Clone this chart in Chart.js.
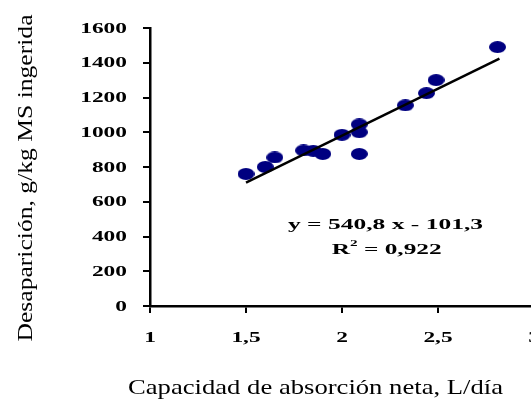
<!DOCTYPE html>
<html>
<head>
<meta charset="utf-8">
<script src="https://cdn.jsdelivr.net/npm/chart.js@4"></script>
<style>
  html, body { margin: 0; padding: 0; background: #fff; overflow: hidden; }
  #wrap { position: absolute; left: 0; top: 0; width: 545px; height: 400px; }
</style>
</head>
<body>
<div id="wrap"><canvas id="chart" width="545" height="400"></canvas></div>
<script>
// data
const capacidad    = [1.5, 1.6, 1.65, 1.8, 1.85, 1.9, 2.0, 2.09, 2.09, 2.09, 2.33, 2.44, 2.49, 2.81];
const desaparicion = [760, 800, 855, 895, 893, 875, 985, 1045, 1000, 875, 1155, 1225, 1300, 1490];

// fitted line shown in the chart
const slope = 540.8;
const intercept = -101.3;
const trendX = [1.5, 2.82];

const xTickVals = [1, 1.5, 2, 2.5, 3];
const xTickLabels = ["1", "1,5", "2", "2,5", "3"];
const yTickVals = [0, 200, 400, 600, 800, 1000, 1200, 1400, 1600];
const yTickLabels = ["0", "200", "400", "600", "800", "1000", "1200", "1400", "1600"];

const xTitle = "Capacidad de absorción neta, L/día";
const yTitle = "Desaparición, g/kg MS ingerida";
const eqLine = "y = 540,8 x - 101,3";
const r2Value = " = 0,922";

document.addEventListener("DOMContentLoaded", function () {
    // ellipse marker like the original
    const dot = document.createElement("canvas");
    dot.width = 17;
    dot.height = 12;
    const dctx = dot.getContext("2d");
    dctx.fillStyle = "#000080";
    dctx.beginPath();
    dctx.ellipse(8.5, 6, 8.5, 6, 0, 0, Math.PI * 2);
    dctx.fill();

    const points = capacidad.map((x, i) => ({ x: x, y: desaparicion[i] }));
    const trend = trendX.map(x => ({ x: x, y: slope * x + intercept }));

    // draws text stretched horizontally like the source image
    function stretchText(ctx, text, x, y, font, sx, align) {
        ctx.save();
        ctx.font = font;
        ctx.textAlign = align;
        ctx.textBaseline = "middle";
        ctx.fillStyle = "#000";
        ctx.translate(x, y);
        ctx.scale(sx, 1);
        ctx.fillText(text, 0, 0);
        ctx.restore();
    }

    function fitText(ctx, text, x, y, font, width, rotate) {
        ctx.save();
        ctx.font = font;
        const sx = width / ctx.measureText(text).width;
        ctx.textAlign = "center";
        ctx.textBaseline = "middle";
        ctx.fillStyle = "#000";
        ctx.translate(x, y);
        if (rotate) ctx.rotate(-Math.PI / 2);
        ctx.scale(sx, 1);
        ctx.fillText(text, 0, 0);
        ctx.restore();
    }

    // "R" + raised "2" + rest, fitted to a width
    function r2Text(ctx, x, y, width) {
        const big = 'bold 15px "Liberation Serif"';
        const small = 'bold 9px "Liberation Serif"';
        ctx.save();
        ctx.font = big;
        const wR = ctx.measureText("R").width;
        const wRest = ctx.measureText(r2Value).width;
        ctx.font = small;
        const w2 = ctx.measureText("2").width;
        const total = wR + w2 + wRest;
        const sx = width / total;
        ctx.translate(x - width / 2, y);
        ctx.scale(sx, 1);
        ctx.textAlign = "left";
        ctx.textBaseline = "middle";
        ctx.fillStyle = "#000";
        ctx.font = big;
        ctx.fillText("R", 0, 0);
        ctx.font = small;
        ctx.fillText("2", wR, -6);
        ctx.font = big;
        ctx.fillText(r2Value, wR + w2, 0);
        ctx.restore();
    }

    const labelsPlugin = {
        id: "labels",
        afterDraw(chart) {
            const ctx = chart.ctx;
            const xs = chart.scales.x;
            const ys = chart.scales.y;
            const tickFont = 'bold 14px "Liberation Serif"';

            yTickVals.forEach((v, i) => {
                stretchText(ctx, yTickLabels[i], 127, ys.getPixelForValue(v) + 1, tickFont, 1.67, "right");
            });
            xTickVals.forEach((v, i) => {
                stretchText(ctx, xTickLabels[i], xs.getPixelForValue(v), 338, tickFont, 1.67, "center");
            });

            fitText(ctx, xTitle, 315.5, 388, '21px "Liberation Serif"', 375, false);
            fitText(ctx, yTitle, 26, 178, '22px "Liberation Serif"', 327, true);

            fitText(ctx, eqLine, 385.5, 225, 'bold 15px "Liberation Serif"', 195, false);
            r2Text(ctx, 386.7, 250, 110);
        }
    };

    new Chart(document.getElementById("chart"), {
        type: "scatter",
        data: {
            datasets: [{
                label: "Datos",
                data: points,
                pointStyle: dot,
                pointRadius: 8,
                pointHoverRadius: 8
            }, {
                type: "line",
                label: "Tendencia",
                data: trend,
                borderColor: "#000",
                borderWidth: 2.5,
                pointRadius: 0,
                fill: false,
                order: -1
            }]
        },
        options: {
            responsive: false,
            animation: false,
            layout: { padding: { top: 28, right: 11, bottom: 0, left: 0 } },
            plugins: {
                legend: { display: false },
                tooltip: { enabled: false }
            },
            scales: {
                x: {
                    type: "linear",
                    min: 1,
                    max: 3,
                    afterBuildTicks: function (scale) {
                        scale.ticks = xTickVals.map(v => ({ value: v }));
                    },
                    afterFit: function (scale) { scale.height = 94; },
                    ticks: { display: false },
                    grid: { drawOnChartArea: false, drawTicks: true, tickLength: 7, color: "#000", lineWidth: 2 },
                    border: { color: "#000", width: 2.5 }
                },
                y: {
                    min: 0,
                    max: 1600,
                    afterBuildTicks: function (scale) {
                        scale.ticks = yTickVals.map(v => ({ value: v }));
                    },
                    afterFit: function (scale) { scale.width = 150; },
                    ticks: { display: false },
                    grid: { drawOnChartArea: false, drawTicks: true, tickLength: 7, color: "#000", lineWidth: 2 },
                    border: { color: "#000", width: 2.5 }
                }
            }
        },
        plugins: [labelsPlugin]
    });
});
</script>
</body>
</html>
